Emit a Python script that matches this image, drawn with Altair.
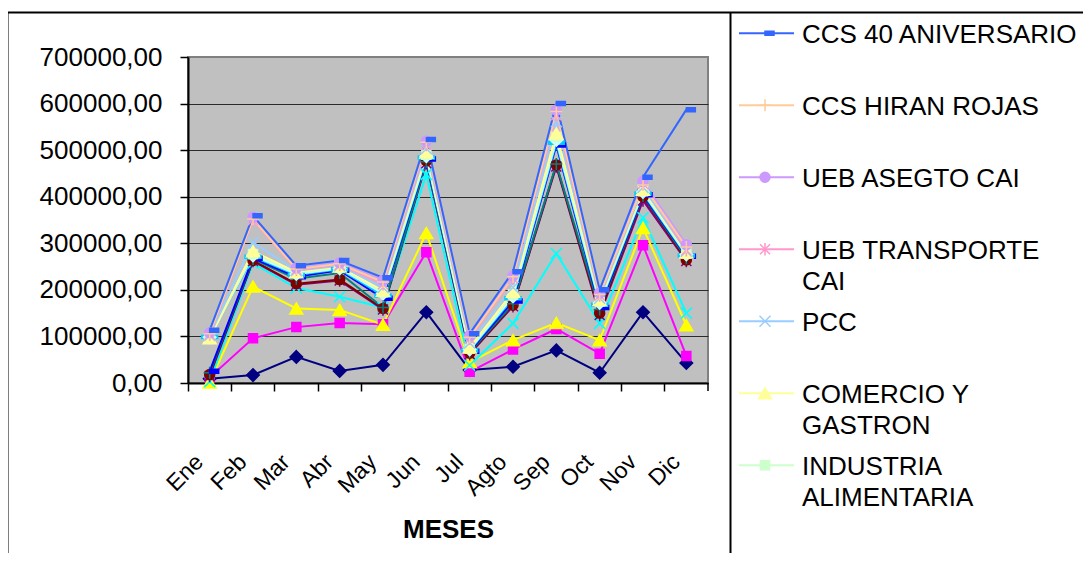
import altair as alt
import pandas as pd

FONT = "Liberation Sans"

months = ["Ene", "Feb", "Mar", "Abr", "May", "Jun", "Jul", "Agto", "Sep", "Oct", "Nov", "Dic"]

# values (as plotted), series 1 .. 17
serie_1 = [9000, 17000, 56000, 26000, 39000, 152000, 28000, 35000, 70000, 22000, 152000, 43000]
serie_2 = [12000, 96000, 120000, 129000, 126000, 281000, 24000, 72000, 116000, 63000, 296000, 58000]
serie_3 = [1000, 207000, 160000, 157000, 125000, 322000, 45000, 92000, 129000, 92000, 333000, 124000]
serie_4 = [3000, 257000, 204000, 185000, 162000, 448000, 38000, 128000, 278000, 128000, 355000, 150000]
serie_5 = [15000, 262000, 211000, 220000, 158000, 472000, 62000, 165000, 465000, 146000, 392000, 262000]
serie_6 = [18000, 263000, 213000, 222000, 160000, 477000, 64000, 167000, 468000, 150000, 400000, 264000]
serie_7 = [22000, 266000, 224000, 236000, 162000, 475000, 66000, 170000, 470000, 158000, 402000, 268000]
serie_8 = [25000, 268000, 228000, 242000, 182000, 481000, 68000, 176000, 511000, 162000, 404000, 272000]
serie_9 = [99000, 271000, 232000, 244000, 188000, 484000, 70000, 182000, 516000, 168000, 407000, 274000]
serie_10 = [98000, 274000, 234000, 246000, 192000, 487000, 72000, 186000, 522000, 172000, 410000, 276000]
industria_alimentaria = [97000, 277000, 236000, 248000, 195000, 490000, 74000, 190000, 528000, 175000, 412000, 278000]
comercio_y_gastron = [96000, 283000, 238000, 250000, 198000, 495000, 76000, 196000, 536000, 178000, 415000, 280000]
pcc = [102000, 302000, 241000, 252000, 205000, 503000, 86000, 205000, 561000, 182000, 420000, 283000]
ueb_transporte_cai = [104000, 350000, 243000, 254000, 212000, 511000, 95000, 225000, 575000, 188000, 428000, 285000]
ueb_asegto_cai = [108000, 356000, 247000, 258000, 220000, 519000, 102000, 230000, 586000, 193000, 433000, 297000]
ccs_hiran_rojas = [106000, 352000, 245000, 256000, 217000, 517000, 98000, 228000, 583000, 190000, 425000, 292000]
ccs_40_aniversario = [113000, 359000, 252000, 263000, 226000, 523000, 106000, 239000, 600000, 200000, 442000, 587000]

series_names = [
    "Serie 1", "Serie 2", "Serie 3", "Serie 4", "Serie 5", "Serie 6", "Serie 7",
    "Serie 8", "Serie 9", "Serie 10",
    "INDUSTRIA ALIMENTARIA", "COMERCIO Y GASTRON", "PCC", "UEB TRANSPORTE CAI",
    "UEB ASEGTO CAI", "CCS HIRAN ROJAS", "CCS 40 ANIVERSARIO",
]
series_values = [
    serie_1, serie_2, serie_3, serie_4, serie_5, serie_6, serie_7, serie_8, serie_9,
    serie_10, industria_alimentaria, comercio_y_gastron, pcc, ueb_transporte_cai,
    ueb_asegto_cai, ccs_hiran_rojas, ccs_40_aniversario,
]

colors = [
    "#000080", "#FF00FF", "#FFFF00", "#00FFFF", "#800080", "#800000", "#008080",
    "#0000FF", "#00CCFF", "#CCFFFF", "#CCFFCC", "#FFFF99", "#99CCFF", "#FF99CC",
    "#CC99FF", "#FFCC99", "#3366FF",
]

DIAMOND = "M0,-1.25L1.25,0L0,1.25L-1.25,0Z"
SQUARE = "M-0.9,-0.9H0.9V0.9H-0.9Z"
TRIANGLE = "M0,-1.1L1.3,1.1L-1.3,1.1Z"
XMARK = "M-1.1,-1.1L1.1,1.1M-1.1,1.1L1.1,-1.1"
STAR = "M-1,-1L1,1M-1,1L1,-1M0,-1.25L0,1.25"
CIRCLE = "circle"
PLUS = "M-1.2,0H1.2M0,-1.2V1.2"
DOWJONES = "M0,-0.4H1.8V0.4H0Z"
LONGDASH = "M-1.6,-0.3H1.6V0.3H-1.6Z"
marker_cycle = [DIAMOND, SQUARE, TRIANGLE, XMARK, STAR, CIRCLE, PLUS, DOWJONES, LONGDASH]
shapes = [marker_cycle[i % len(marker_cycle)] for i in range(len(series_names))]

# legend (reversed order, only the part that is visible)
legend_series = [
    "CCS 40 ANIVERSARIO", "CCS HIRAN ROJAS", "UEB ASEGTO CAI", "UEB TRANSPORTE CAI",
    "PCC", "COMERCIO Y GASTRON", "INDUSTRIA ALIMENTARIA",
]
legend_labels = [
    "CCS 40 ANIVERSARIO", "CCS HIRAN ROJAS", "UEB ASEGTO CAI", "UEB TRANSPORTE\nCAI",
    "PCC", "COMERCIO Y\nGASTRON", "INDUSTRIA\nALIMENTARIA",
]

rows = []
for si, (name, vals) in enumerate(zip(series_names, series_values)):
    for mi, (m, v) in enumerate(zip(months, vals)):
        rows.append({"series": name, "si": si, "month": m, "mi": mi, "value": v})
df = pd.DataFrame(rows)

legend_df = pd.DataFrame({"series": legend_series, "label": legend_labels,
                          "row": list(range(len(legend_series)))})
one = pd.DataFrame({"a": [0]})

color_scale = alt.Scale(domain=series_names, range=colors)
shape_scale = alt.Scale(domain=series_names, range=shapes)

x_enc = alt.X(
    "month:N", sort=months,
    scale=alt.Scale(type="band", paddingInner=0, paddingOuter=0),
    axis=alt.Axis(
        title="MESES", titleFont=FONT, titleFontSize=26, titleFontWeight="bold",
        titleColor="black", titleY=146, titleBaseline="middle",
        bandPosition=0, labelAngle=315, labelAlign="right", labelBaseline="middle",
        labelOffset=-10, labelPadding=67, labelFont=FONT, labelFontSize=23,
        labelColor="black", tickSize=8, tickColor="black", tickWidth=1.5,
        domainColor="black", domainWidth=2, grid=False, labelOverlap=False,
    ),
)
y_enc = alt.Y(
    "value:Q",
    scale=alt.Scale(domain=[0, 700000], nice=False, zero=True),
    axis=alt.Axis(
        title=None, values=[0, 100000, 200000, 300000, 400000, 500000, 600000, 700000],
        labelExpr="replace(format(datum.value, '.2f'), '.', ',')",
        labelFont=FONT, labelFontSize=26, labelColor="black", labelPadding=18,
        labelFlush=False, labelOverlap=False,
        tickSize=8, tickColor="black", tickWidth=1.5,
        domainColor="black", domainWidth=2,
        grid=True, gridWidth=1,
        gridColor={"condition": {"test": "datum.value >= 700000", "value": "#808080"},
                   "value": "#2a2a2a"},
    ),
)

lines = alt.Chart(df).mark_line(strokeWidth=2).encode(
    x=x_enc, y=y_enc,
    color=alt.Color("series:N", scale=color_scale, legend=None),
    order=alt.Order("mi:Q"),
)
points = alt.Chart(df).mark_point(filled=True, size=100, strokeWidth=1.5, opacity=1).encode(
    x=x_enc, y=y_enc,
    fill=alt.Fill("series:N", scale=color_scale, legend=None),
    stroke=alt.Stroke("series:N", scale=color_scale, legend=None),
    shape=alt.Shape("series:N", scale=shape_scale, legend=None),
)

end_tick = alt.Chart(one).mark_rule(color="black", strokeWidth=1.5).encode(
    x=alt.value(520), y=alt.value(326), y2=alt.value(334)
)
frame = alt.Chart(one).mark_rect(fillOpacity=0, stroke="black", strokeWidth=2).encode(
    x=alt.value(-180.5), x2=alt.value(1100), y=alt.value(-44.5), y2=alt.value(800)
)
legend_edge = alt.Chart(one).mark_rule(color="black", strokeWidth=2).encode(
    x=alt.value(542.5), y=alt.value(-44.5), y2=alt.value(800)
)

leg_base = alt.Chart(legend_df).transform_calculate(
    ly="datum.row * 72 - 23.7", ty="datum.row * 72 - 23.7 - 11"
)
leg_lines = leg_base.mark_rule(strokeWidth=2).encode(
    x=alt.value(551), x2=alt.value(606),
    y=alt.Y("ly:Q", scale=None, axis=None),
    color=alt.Color("series:N", scale=color_scale, legend=None),
)
leg_points = leg_base.mark_point(filled=True, size=100, strokeWidth=1.5, opacity=1).encode(
    x=alt.value(577),
    y=alt.Y("ly:Q", scale=None, axis=None),
    fill=alt.Fill("series:N", scale=color_scale, legend=None),
    stroke=alt.Stroke("series:N", scale=color_scale, legend=None),
    shape=alt.Shape("series:N", scale=shape_scale, legend=None),
)
leg_text = leg_base.mark_text(
    align="left", baseline="top", font=FONT, fontSize=26, lineBreak="\n",
    lineHeight=31, color="black",
).encode(
    x=alt.value(614),
    y=alt.Y("ty:Q", scale=None, axis=None),
    text="label:N",
)

chart = alt.layer(
    lines, points, end_tick, frame, legend_edge, leg_lines, leg_points, leg_text
).properties(
    width=520, height=326,
    autosize=alt.AutoSizeParams(type="none"),
    padding={"left": 180, "top": 49, "right": 375, "bottom": 170},
    background="white",
).configure_view(
    fill="#C0C0C0", stroke="#808080", strokeWidth=2
)

chart.save("out.html", embed_options={"renderer": "svg", "actions": False})
